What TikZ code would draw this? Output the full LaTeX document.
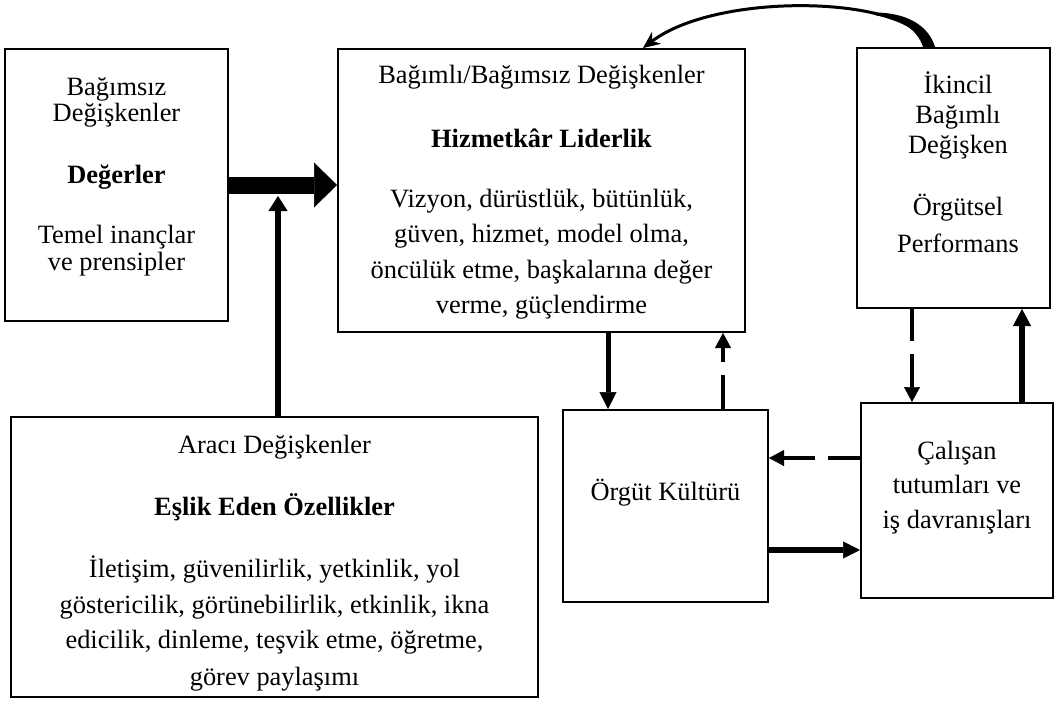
\documentclass[tikz,border=0pt]{standalone}
\usepackage{fontspec}
\setmainfont{Liberation Serif}
\usetikzlibrary{arrows.meta,calc}
\begin{document}
\begin{tikzpicture}[x=1pt,y=-1pt,
  box/.style={draw,line width=2pt,inner sep=0pt,minimum width=#1},
  txt/.style={anchor=base,inner sep=0pt,font=\fontsize{26.4}{30}\selectfont},
  fat/.style={line width=17pt,-{Triangle[length=23pt,width=45pt,line width=0.5pt]}},
  solidarr/.style={line width=5pt,-{Triangle[length=17pt,width=17pt,line width=0.5pt]}},
  dasharr/.style={line width=4.5pt,-{Triangle[length=15pt,width=16pt,line width=0.5pt]}}
]
\useasboundingbox (0,0) rectangle (1054,702);

% boxes
\node[box=223pt,minimum height=272pt] (b1) at (116.5,185) {};
\node[box=407pt,minimum height=283pt] (b2) at (541.5,190.5) {};
\node[box=193pt,minimum height=260pt] (b3) at (953.5,178) {};
\node[box=205pt,minimum height=192pt] (b4) at (665.5,506) {};
\node[box=192pt,minimum height=195pt] (b5) at (957,500.5) {};
\node[box=527pt,minimum height=280pt] (b6) at (274.5,557) {};

% box texts, one line each
\foreach \x/\y/\t [count=\i] in {
  116.5/95/{Bağımsız}, 116.5/121/{Değişkenler}, 116.5/183/{\bfseries Değerler},
  116.5/243/{Temel inançlar}, 116.5/270/{ve prensipler},
  541.5/83/{Bağımlı/Bağımsız Değişkenler}, 541.5/147/{\bfseries Hizmetkâr Liderlik},
  541.5/207/{Vizyon, dürüstlük, bütünlük,}, 541.5/242/{güven, hizmet, model olma,},
  541.5/278/{öncülük etme, başkalarına değer}, 541.5/313/{verme, güçlendirme},
  958/93/{İkincil}, 958/123/{Bağımlı}, 958/153/{Değişken},
  958/215/{Örgütsel}, 958/252/{Performans},
  665.5/500/{Örgüt Kültürü},
  957/459/{Çalışan}, 957/493/{tutumları ve}, 957/528/{iş davranışları},
  274.5/453/{Aracı Değişkenler}, 274.5/515/{\bfseries Eşlik Eden Özellikler},
  274.5/577/{İletişim, güvenilirlik, yetkinlik, yol},
  274.5/613/{göstericilik, görünebilirlik, etkinlik, ikna},
  274.5/648/{edicilik, dinleme, teşvik etme, öğretme,},
  274.5/685/{görev paylaşımı}}
  \node[txt] (line\i) at (\x,\y) {\t};

% positions of the connector lines
\coordinate (xa) at (608,0);
\coordinate (xb) at (723,0);
\coordinate (xc) at (912,0);
\coordinate (xd) at (1022,0);
\coordinate (ya) at (0,458);
\coordinate (yb) at (0,550);
\coordinate (join) at (278,196);

% connectors
\draw[fat] (b1.east) -- (b1.east -| b2.west);
\draw[line width=6pt,-{Triangle[length=15pt,width=19pt,line width=0.5pt]}] (join |- b6.north) -- (join);
\draw[solidarr] (xa |- b2.south) -- (xa |- b4.north);
\draw[dasharr,dash pattern=on 34pt off 13pt on 100pt off 1pt] (xb |- b4.north) -- (xb |- b2.south);
\draw[dasharr,dash pattern=on 32pt off 13pt on 100pt off 1pt] (ya -| b5.west) -- (ya -| b4.east);
\draw[solidarr,line width=6pt] (yb -| b4.east) -- (yb -| b5.west);
\draw[dasharr,dash pattern=on 32pt off 13pt on 100pt off 1pt] (xc |- b3.south) -- (xc |- b5.north);
\draw[solidarr,line width=6.5pt,-{Triangle[length=17pt,width=18pt,line width=0.5pt]}] (xd |- b5.north) -- (xd |- b3.south);

% curved feedback arrow, thick at its start
\coordinate (cs) at ([xshift=73pt]b3.north west);
\coordinate (ce) at ([xshift=-103pt]b2.north east);
\draw[line width=3pt,-{Stealth[length=17pt,width=15pt,line width=0.5pt]}]
  (cs) .. controls (915,-4) and (720,-10) .. (ce);
\fill ([xshift=-6pt]cs) .. controls (917,28) and (898,18) .. (876,15.5)
  -- (876,12.5) .. controls (905,13) and (928,24) .. ([xshift=6pt]cs) -- cycle;
\end{tikzpicture}
\end{document}
